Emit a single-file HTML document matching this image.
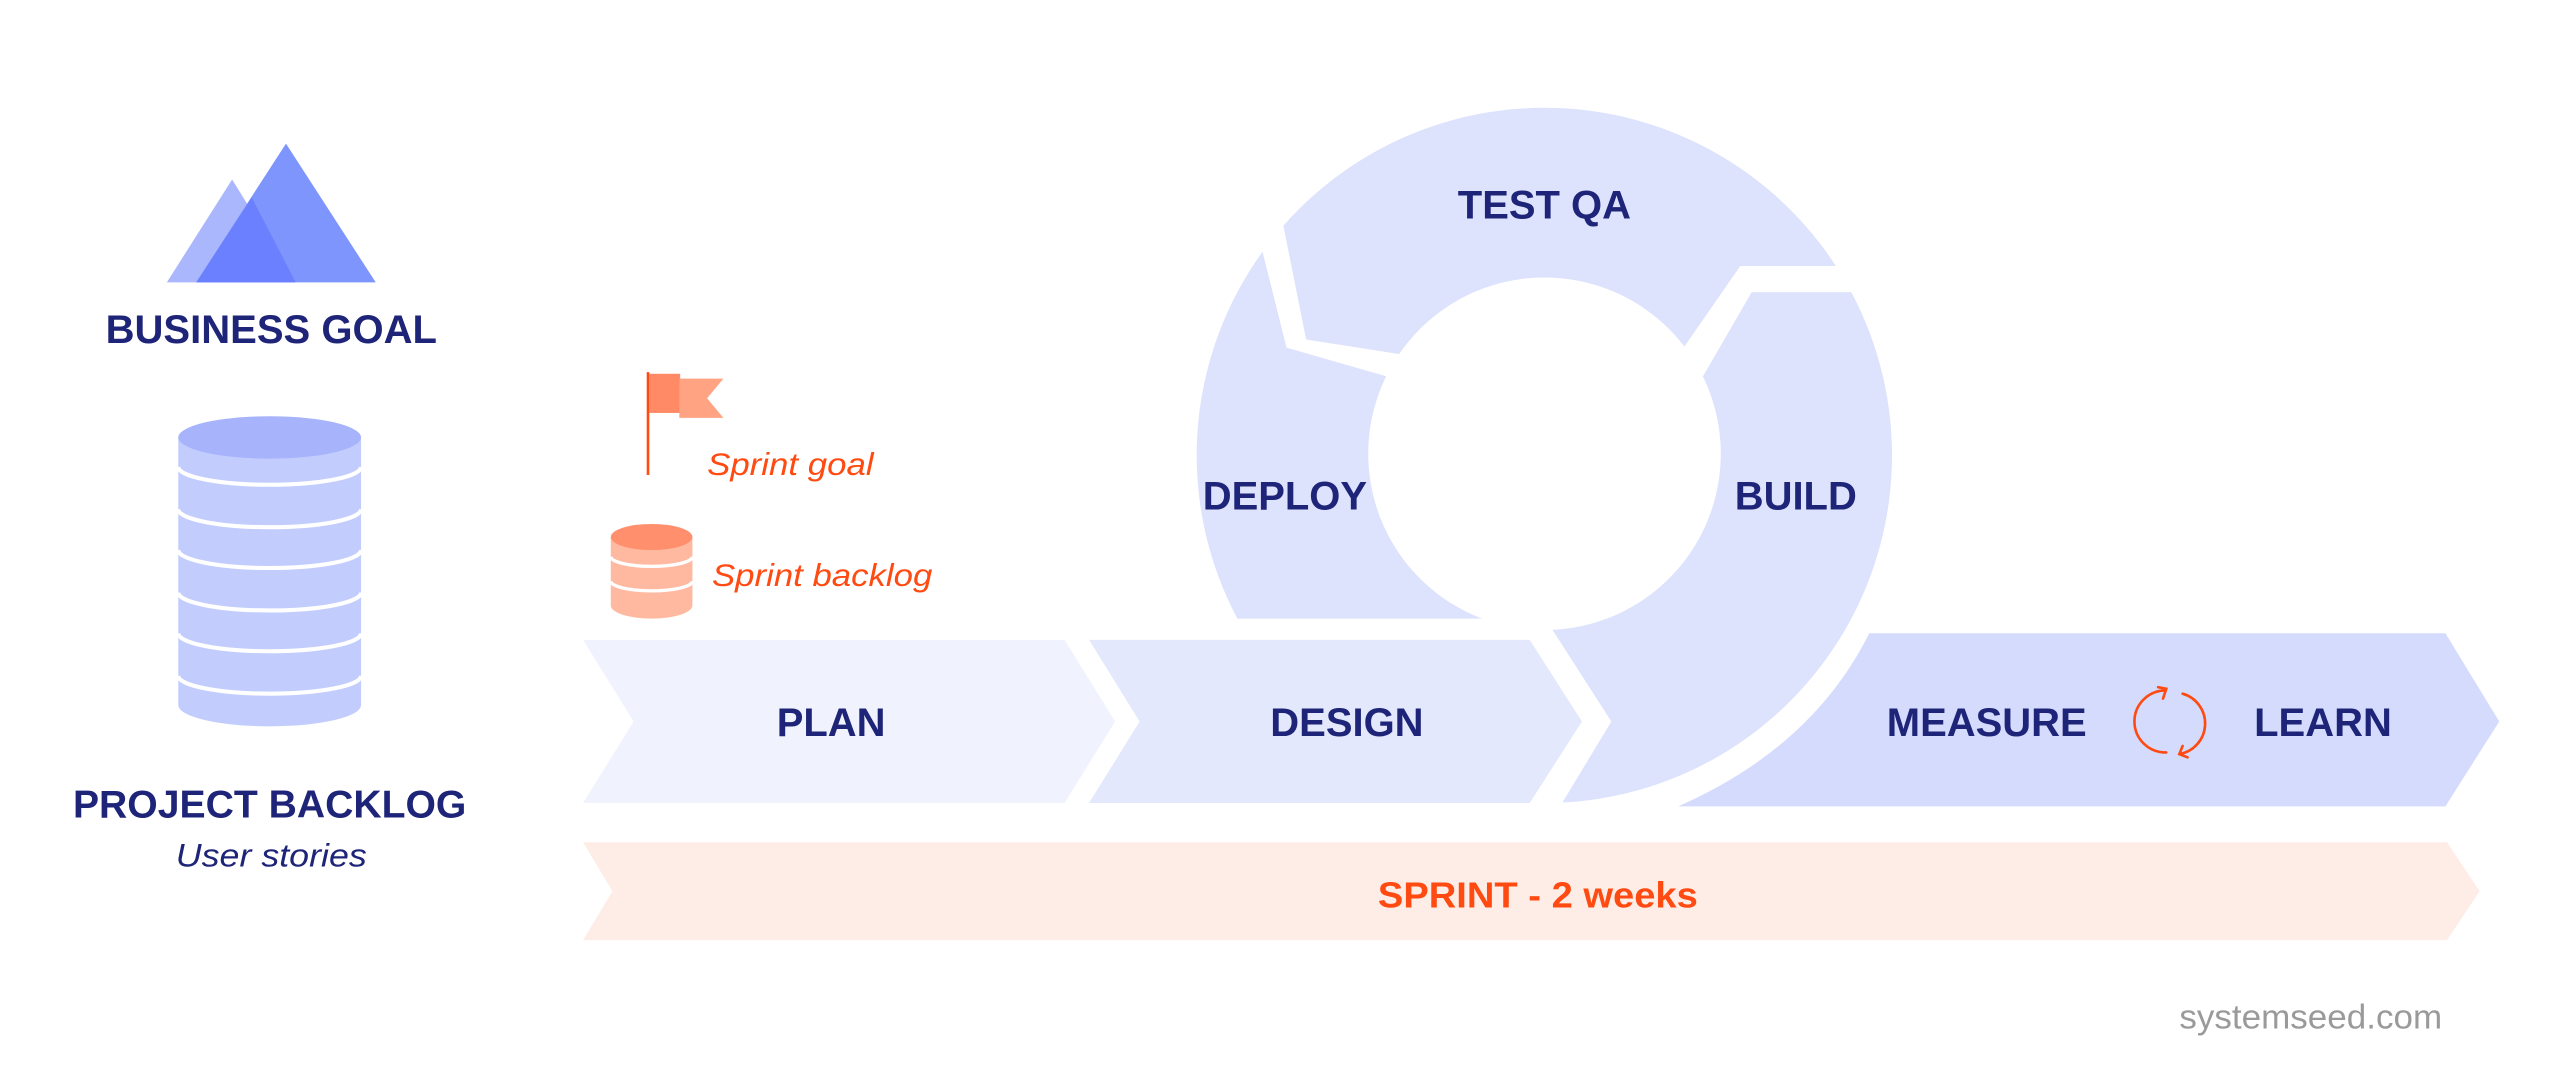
<!DOCTYPE html>
<html><head><meta charset="utf-8"><style>html,body{margin:0;padding:0;background:#fff}svg{display:block}</style></head>
<body>
<svg width="2560" height="1074" viewBox="0 0 1568 658" xmlns="http://www.w3.org/2000/svg" font-family="'Liberation Sans', sans-serif">
<rect width="1568" height="658" fill="#fff"/>
<!-- mountains -->
<polygon points="102,173 142,110 181,173" fill="#aab7fc"/>
<polygon points="120,173 175,88 230,173" fill="#7e95fd"/>
<polygon points="120,173 154,121 181,173" fill="#6a80fe"/>
<text x="166" y="210" text-anchor="middle" font-size="24.5" font-weight="bold" fill="#1e2478" textLength="203" lengthAdjust="spacingAndGlyphs">BUSINESS GOAL</text>
<!-- big cylinder -->
<path d="M109,268 L109,432 A56,13 0 0 0 221,432 L221,268 Z" fill="#c3cdfd"/>
<ellipse cx="165" cy="268" rx="56" ry="13" fill="#a7b4fc"/>
<g fill="none" stroke="#fff" stroke-width="2.5">
<path d="M109,286 A56,11 0 0 0 221,286"/>
<path d="M109,312 A56,11 0 0 0 221,312"/>
<path d="M109,337 A56,11 0 0 0 221,337"/>
<path d="M109,363 A56,11 0 0 0 221,363"/>
<path d="M109,388 A56,11 0 0 0 221,388"/>
<path d="M109,414 A56,11 0 0 0 221,414"/>
</g>
<text x="165" y="501" text-anchor="middle" font-size="24" font-weight="bold" fill="#1e2478" textLength="241" lengthAdjust="spacingAndGlyphs">PROJECT BACKLOG</text>
<text x="166" y="531" text-anchor="middle" font-size="20" font-style="italic" fill="#1e2478" textLength="117" lengthAdjust="spacingAndGlyphs">User stories</text>
<!-- flag -->
<rect x="396" y="228" width="1.6" height="63" fill="#ff4a12"/>
<rect x="397.5" y="229" width="19" height="24" fill="#ff8a65"/>
<polygon points="416,232 443,232 433,244 443,256 416,256" fill="#ffa383"/>
<text x="433" y="291" font-size="19" font-style="italic" fill="#ff4a12" textLength="102" lengthAdjust="spacingAndGlyphs">Sprint goal</text>
<!-- small cylinder -->
<path d="M374,329 L374,371 A25,8 0 0 0 424,371 L424,329 Z" fill="#ffb9a1"/>
<ellipse cx="399" cy="329" rx="25" ry="8" fill="#ff8f6d"/>
<g fill="none" stroke="#fff" stroke-width="2">
<path d="M374,341 A25,6 0 0 0 424,341"/>
<path d="M374,356 A25,6 0 0 0 424,356"/>
</g>
<text x="436" y="359" font-size="19" font-style="italic" fill="#ff4a12" textLength="135" lengthAdjust="spacingAndGlyphs">Sprint backlog</text>
<!-- ring -->
<path fill-rule="evenodd" fill="#dde2fd" d="M946,66 A213,213 0 1 1 945.9,66 Z M946,170 A108,108 0 1 0 946.1,170 Z"/>
<polygon points="700,379 940,379 951,386 987,442 955,495 700,495" fill="#fff"/>
<polygon points="768,120 786,138 800,208 864,218 854,232 788,213 773,153 755,150" fill="#fff"/>
<polygon points="1025,222 1066,163 1170,163 1170,179 1073,179 1040,236" fill="#fff"/>
<!-- chevrons -->
<polygon points="357,392 652,392 683,442 652,492 357,492 388,442" fill="#f0f3fd"/>
<polygon points="667,392 937,392 969,442 937,492 667,492 698,442" fill="#e3e8fd"/>
<path d="M1145,388 L1498,388 L1531,442 L1498,494 L1028,494 Q1110,458 1145,388 Z" fill="#d4dbfd"/>
<polygon points="357,516 1499,516 1519,546 1499,576 357,576 375,546" fill="#feede6"/>
<!-- labels -->
<g font-size="24.5" font-weight="bold" fill="#1e2478" text-anchor="middle">
<text x="509" y="451">PLAN</text>
<text x="825" y="451">DESIGN</text>
<text x="946" y="134">TEST QA</text>
<text x="787" y="312">DEPLOY</text>
<text x="1100" y="312">BUILD</text>
<text x="1217" y="451">MEASURE</text>
<text x="1423" y="451">LEARN</text>
</g>
<text x="942" y="556" text-anchor="middle" font-size="22" font-weight="bold" fill="#ff4a12" textLength="196" lengthAdjust="spacingAndGlyphs">SPRINT - 2 weeks</text>
<!-- cycle icon -->
<g fill="none" stroke="#ff4a12" stroke-width="1.6" stroke-linecap="round">
<path d="M1326,423 A19,19 0 0 0 1327,461"/>
<path d="M1322,421 L1327,422 L1325,428"/>
<path d="M1337,425 A19,19 0 0 1 1335,462"/>
<path d="M1340,464 L1335,462 L1337,457"/>
</g>
<text x="1496" y="630" text-anchor="end" font-size="21" fill="#9a9a9a" textLength="161" lengthAdjust="spacingAndGlyphs">systemseed.com</text>
</svg>
</body></html>
